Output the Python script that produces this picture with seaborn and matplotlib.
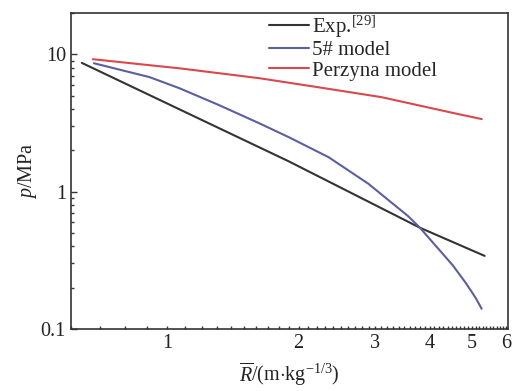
import matplotlib
matplotlib.use('Agg')
import matplotlib.pyplot as plt
import matplotlib.ticker as mticker
import seaborn as sns
import pandas as pd

# values (log-log)
exp_x = [0.636, 1.899, 3.80, 5.35]
exp_y = [8.65, 1.66, 0.545, 0.34]

m5_x = [0.678, 0.910, 1.065, 1.314, 1.622, 1.899, 2.344, 2.893, 3.568, 3.80,
        4.522, 4.842, 5.103, 5.267]
m5_y = [8.60, 6.81, 5.66, 4.26, 3.15, 2.49, 1.78, 1.14, 0.663, 0.545,
        0.290, 0.216, 0.168, 0.140]

perz_x = [0.674, 0.91, 1.065, 1.62, 2.0, 2.22, 3.1, 4.52, 5.27]
perz_y = [9.2, 8.32, 7.9, 6.70, 6.05, 5.75, 4.87, 3.74, 3.37]

labels = ['Exp.$^{[29]}$', '5# model', 'Perzyna model']
colors = ['#333333', '#5b5f9e', '#d9484c']

df = pd.concat([
    pd.DataFrame({'R': exp_x, 'p': exp_y, 'series': labels[0]}),
    pd.DataFrame({'R': m5_x, 'p': m5_y, 'series': labels[1]}),
    pd.DataFrame({'R': perz_x, 'p': perz_y, 'series': labels[2]}),
])

sns.set_style('ticks')
plt.rcParams['font.family'] = ['Liberation Serif', 'DejaVu Serif']
plt.rcParams['mathtext.fontset'] = 'custom'
plt.rcParams['mathtext.rm'] = 'Liberation Serif'
plt.rcParams['mathtext.it'] = 'Liberation Serif:italic'

fig = plt.figure(figsize=(5.13, 3.91), dpi=100)
ax = fig.add_axes([0.138, 0.159, 0.852, 0.808])

sns.lineplot(data=df, x='R', y='p', hue='series', estimator=None, sort=True,
             palette=dict(zip(labels, colors)), linewidth=1.5, ax=ax)

ax.set_xscale('log')
ax.set_yscale('log')
ax.set_xlim(0.6, 6.05)
ax.set_ylim(0.1, 20)

ax.xaxis.set_major_locator(mticker.FixedLocator([1, 2, 3, 4, 5, 6]))
ax.xaxis.set_major_formatter(mticker.FixedFormatter(['1', '2', '3', '4', '5', '6']))
ax.xaxis.set_minor_locator(mticker.MultipleLocator(0.1))
ax.xaxis.set_minor_formatter(mticker.NullFormatter())
ax.yaxis.set_major_locator(mticker.FixedLocator([0.1, 1, 10]))
ax.yaxis.set_major_formatter(mticker.FixedFormatter(['0.1', '1', '10']))

ax.tick_params(which='both', direction='in', colors='#333333', labelcolor='#222222',
               labelsize=14.5, width=1.0)
ax.tick_params(which='major', length=4)
ax.tick_params(which='minor', length=2.5)
ax.tick_params(axis='x', which='major', length=2.5)
for s in ax.spines.values():
    s.set_visible(True)
    s.set_color('#333333')
    s.set_linewidth(1.2)

ax.set_xlabel(r'$\overline{R}$/(m$\cdot$kg$^{-1/3}$)', fontsize=14.5, color='#222222', labelpad=5)
ax.set_ylabel(r'$p$/MPa', fontsize=14.5, color='#222222', labelpad=1)

leg = ax.legend(loc='upper left', bbox_to_anchor=(0.435, 1.025), frameon=False,
                fontsize=15, handlelength=1.9, handletextpad=0.15, labelspacing=0.05,
                borderaxespad=0.0)
leg.set_title(None)

fig.savefig('out.png', dpi=100)
